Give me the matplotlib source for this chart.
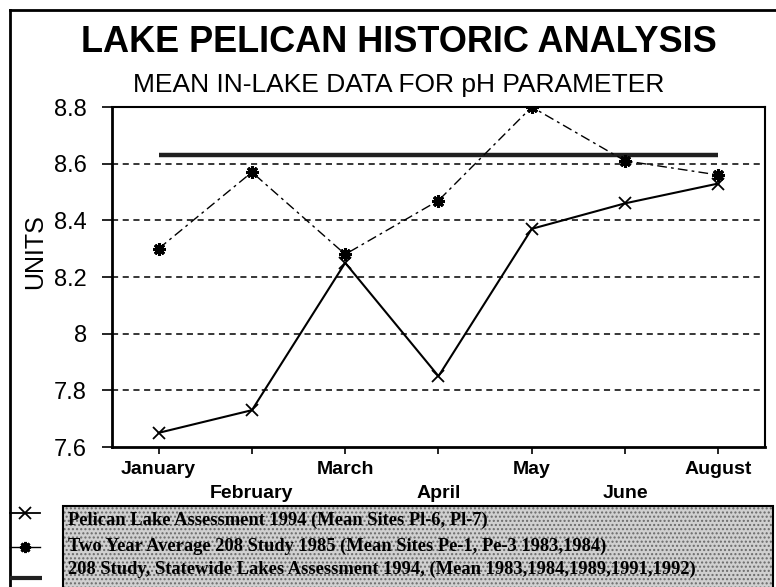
import numpy as np
import matplotlib
matplotlib.use("Agg")
import matplotlib.pyplot as plt
from matplotlib.lines import Line2D
from matplotlib.patches import Rectangle

# data
months = ["January", "February", "March", "April", "May", "June", "August"]
pelican_1994 = [7.65, 7.73, 8.25, 7.85, 8.37, 8.46, 8.53]
avg_208_1985 = [8.30, 8.57, 8.28, 8.47, 8.80, 8.61, 8.56]
statewide_1994 = [8.63, 8.63, 8.63, 8.63, 8.63, 8.63, 8.63]
y_ticks = [7.6, 7.8, 8.0, 8.2, 8.4, 8.6, 8.8]
y_tick_labels = ["7.6", "7.8", "8", "8.2", "8.4", "8.6", "8.8"]
legend_labels = [
    "Pelican Lake Assessment 1994 (Mean Sites Pl-6, Pl-7)",
    "Two Year Average 208 Study 1985 (Mean Sites Pe-1, Pe-3 1983,1984)",
    "208 Study, Statewide Lakes Assessment 1994, (Mean 1983,1984,1989,1991,1992)",
]

W, H = 776, 587
plt.rcParams["font.family"] = ["Liberation Sans", "DejaVu Sans"]
fig = plt.figure(figsize=(W / 100, H / 100), dpi=100)


def fx(px):
    return px / W


def fy(py):
    return 1 - py / H


ax = fig.add_axes([fx(112), fy(447), fx(765) - fx(112), fy(107) - fy(447)])
x = np.arange(len(months))

ax.plot(x, statewide_1994, color="#202020", linewidth=3.2, solid_capstyle="butt", zorder=2)
ax.plot(x, avg_208_1985, color="black", linewidth=1.0, linestyle=(0, (7, 3, 2, 3)),
        marker=(8, 2, 0), markersize=9, markeredgewidth=2.2, zorder=3)
ax.plot(x, pelican_1994, color="black", linewidth=1.5, marker="x",
        markersize=9, markeredgewidth=1.3, zorder=4)

ax.set_xlim(-0.5, len(months) - 0.5)
ax.set_ylim(7.6, 8.8)
ax.set_yticks(y_ticks)
ax.set_yticklabels(y_tick_labels, fontsize=17)
for yv in y_ticks[1:-1]:
    ax.axhline(yv, color="black", linewidth=1.1, linestyle=(0, (4, 3)), zorder=1)

ax.set_xticks(x)
ax.set_xticklabels(months, fontsize=14, fontweight="bold")
ax.tick_params(axis="y", direction="out", length=7, width=1.2, pad=11)
ax.tick_params(axis="x", direction="out", length=5, width=1.2, pad=5)
for i, tick in enumerate(ax.xaxis.get_major_ticks()):
    if i % 2 == 1:
        tick.set_pad(22)
for side, lw in [("left", 2.0), ("bottom", 2.0), ("top", 1.5), ("right", 1.5)]:
    ax.spines[side].set_linewidth(lw)

# titles and axis label
fig.text(fx(399), fy(43), "LAKE PELICAN HISTORIC ANALYSIS", ha="center", va="center",
         fontsize=26, fontweight="bold")
fig.text(fx(399), fy(85), "MEAN IN-LAKE DATA FOR pH PARAMETER", ha="center", va="center",
         fontsize=19)
fig.text(fx(35), fy(252), "UNITS", rotation=90, ha="center", va="center", fontsize=18)

# frame lines
fig.add_artist(Line2D([fx(10), fx(10)], [fy(10), fy(587)], color="black", linewidth=2))
fig.add_artist(Line2D([fx(10), fx(776)], [fy(10), fy(10)], color="black", linewidth=2))

# legend box
box = Rectangle((fx(63), fy(590)), fx(773) - fx(63), fy(506) - fy(590),
                transform=fig.transFigure, facecolor="#d0d0d0", edgecolor="#6a6a6a",
                hatch="....", linewidth=0)
fig.add_artist(box)
fig.add_artist(Rectangle((fx(63), fy(590)), fx(773) - fx(63), fy(506) - fy(590),
                         transform=fig.transFigure, facecolor="none", edgecolor="black",
                         linewidth=1.5))

row_y = [520, 546, 569]
for ty, label in zip(row_y, legend_labels):
    fig.text(fx(68), fy(ty), label, ha="left", va="center", fontsize=13.3,
             family=["Liberation Serif", "DejaVu Serif"], fontweight="bold")

# legend keys
fig.add_artist(Line2D([fx(10), fx(40)], [fy(513), fy(513)], color="black", linewidth=1.3))
fig.add_artist(Line2D([fx(25)], [fy(513)], marker="x", markersize=8, color="black",
                      markeredgewidth=1.3))
fig.add_artist(Line2D([fx(10), fx(40)], [fy(547), fy(547)], color="black", linewidth=1.0))
fig.add_artist(Line2D([fx(25)], [fy(547)], marker=(8, 2, 0), markersize=8, color="black",
                      markeredgewidth=2.0))
fig.add_artist(Line2D([fx(10), fx(42)], [fy(578), fy(578)], color="#202020", linewidth=3.0,
                      solid_capstyle="butt"))

fig.savefig("out.png", dpi=100)
